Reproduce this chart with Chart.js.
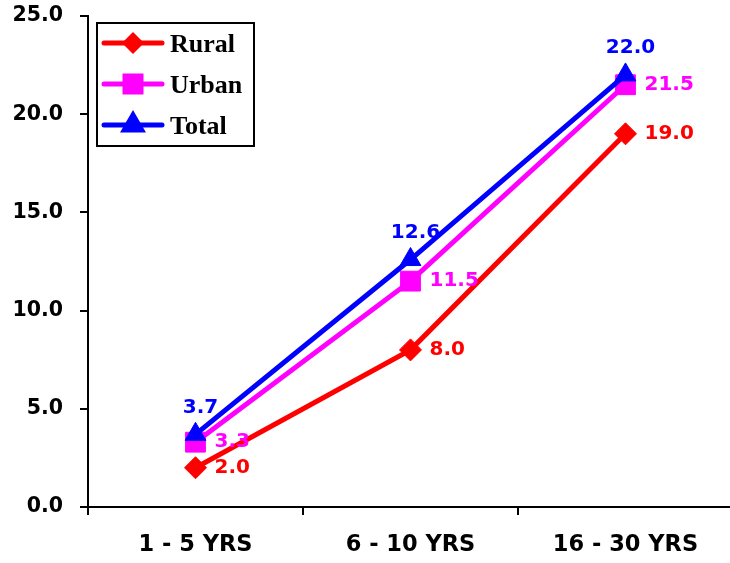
<!DOCTYPE html>
<html>
<head>
<meta charset="utf-8">
<script src="https://cdn.jsdelivr.net/npm/chart.js@4"></script>
<style>
  html, body { margin: 0; padding: 0; background: #fff; overflow: hidden; }
  #ageChart { display: block; }
</style>
</head>
<body>
<canvas id="ageChart" width="734" height="563"></canvas>
<script>
const categories = ['1 - 5 YRS', '6 - 10 YRS', '16 - 30 YRS'];
const rural = [2.0, 8.0, 19.0];
const urban = [3.3, 11.5, 21.5];
const total = [3.7, 12.6, 22.0];
const yTicks = [0, 5, 10, 15, 20, 25];

const sansBold = { family: '"DejaVu Sans", sans-serif', weight: 'bold' };

// line-with-marker legend in a framed box, top left
const legendMarkerSize = [7.5, 11.3, 10];
const boxLegend = {
    id: 'boxLegend',
    afterDraw(chart) {
        const ctx = chart.ctx;
        ctx.save();
        ctx.strokeStyle = '#000';
        ctx.lineWidth = 2;
        ctx.strokeRect(97, 23, 157, 123);
        const rows = [43, 84, 125];
        [0, 1, 2].forEach((i) => {
            const ds = chart.data.datasets[i];
            const y = rows[i];
            ctx.strokeStyle = ds.borderColor;
            ctx.lineWidth = 5;
            ctx.lineCap = 'round';
            ctx.beginPath();
            ctx.moveTo(104, y);
            ctx.lineTo(162, y);
            ctx.stroke();
            ctx.fillStyle = ds.pointBackgroundColor;
            ctx.strokeStyle = ds.borderColor;
            Chart.helpers.drawPoint(ctx, {
                pointStyle: ds.pointStyle,
                radius: legendMarkerSize[i],
                rotation: 0,
                borderWidth: 1
            }, 133, y);
            ctx.fillStyle = '#000';
            ctx.font = 'bold 26px "Liberation Serif", serif';
            ctx.textAlign = 'left';
            ctx.textBaseline = 'middle';
            ctx.fillText(ds.label, 170, y + 2);
        });
        ctx.restore();
    }
};

// value labels next to each point
const valueLabels = {
    id: 'valueLabels',
    afterDatasetsDraw(chart) {
        const ctx = chart.ctx;
        ctx.save();
        ctx.font = 'bold 20px "DejaVu Sans", sans-serif';
        chart.data.datasets.forEach((ds, i) => {
            const meta = chart.getDatasetMeta(i);
            meta.data.forEach((pt, j) => {
                const txt = ds.data[j].toFixed(1);
                ctx.fillStyle = ds.borderColor;
                if (ds.label === 'Total') {
                    ctx.textAlign = 'center';
                    ctx.textBaseline = 'middle';
                    ctx.fillText(txt, pt.x + 5, pt.y - 27);
                } else {
                    ctx.textAlign = 'left';
                    ctx.textBaseline = 'middle';
                    ctx.fillText(txt, pt.x + 19, pt.y);
                }
            });
        });
        ctx.restore();
    }
};

new Chart(document.getElementById('ageChart'), {
    type: 'line',
    data: {
        labels: categories,
        datasets: [
            {
                label: 'Rural',
                data: rural,
                borderColor: '#ff0000',
                backgroundColor: '#ff0000',
                pointBackgroundColor: '#ff0000',
                pointStyle: 'rectRot',
                pointRadius: 11,
                borderWidth: 5,
                pointBorderWidth: 1,
                order: 2
            },
            {
                label: 'Urban',
                data: urban,
                borderColor: '#ff00ff',
                backgroundColor: '#ff00ff',
                pointBackgroundColor: '#ff00ff',
                pointStyle: 'rect',
                pointRadius: 14,
                borderWidth: 5,
                pointBorderWidth: 1,
                order: 1
            },
            {
                label: 'Total',
                data: total,
                borderColor: '#0000ff',
                backgroundColor: '#0000ff',
                pointBackgroundColor: '#0000ff',
                pointStyle: 'triangle',
                pointRadius: 12,
                borderWidth: 5,
                pointBorderWidth: 1,
                order: 0
            }
        ]
    },
    options: {
        responsive: false,
        animation: false,
        layout: { autoPadding: false, padding: { top: 16, left: 0, right: 1, bottom: 0 } },
        plugins: {
            legend: { display: false },
            tooltip: { enabled: false }
        },
        scales: {
            x: {
                offset: true,
                afterFit: (s) => { s.height = 56; },
                border: { color: '#000', width: 2 },
                grid: {
                    offset: true,
                    drawOnChartArea: false,
                    drawTicks: true,
                    tickLength: 8,
                    color: '#000',
                    lineWidth: 2
                },
                ticks: {
                    color: '#000',
                    padding: 17,
                    maxRotation: 0,
                    font: { ...sansBold, size: 22.5 }
                }
            },
            y: {
                min: 0,
                max: 25,
                afterFit: (s) => {
                    s.width = 88;
                    s.paddingTop = 0;
                    s.paddingBottom = 0;
                },
                afterBuildTicks: (s) => { s.ticks = yTicks.map(v => ({ value: v })); },
                border: { color: '#000', width: 2 },
                grid: {
                    drawOnChartArea: false,
                    drawTicks: true,
                    tickLength: 8,
                    color: '#000',
                    lineWidth: 2
                },
                ticks: {
                    color: '#000',
                    padding: 17,
                    font: { ...sansBold, size: 20.5 },
                    callback: (v) => Number(v).toFixed(1)
                }
            }
        }
    },
    plugins: [valueLabels, boxLegend]
});
</script>
</body>
</html>
